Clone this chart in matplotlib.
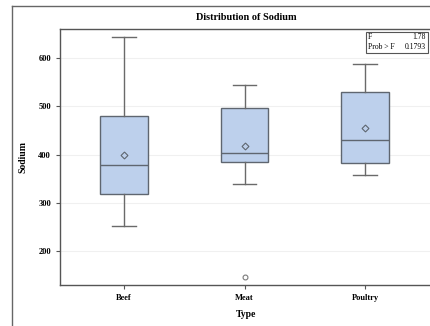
import matplotlib
matplotlib.use("Agg")
import matplotlib.pyplot as plt
from matplotlib.lines import Line2D

# Sodium by type
types = ["Beef", "Meat", "Poultry"]
whisker_low = [252, 339, 358]
q1 = [319, 385, 383]
median = [379, 404, 430]
q3 = [479, 496, 529]
whisker_high = [643, 545, 588]
mean = [400, 417, 456]
outliers = [[], [146], []]
f_value = 1.78
p_value = 0.1793

plt.rcParams["font.family"] = ["Liberation Serif", "DejaVu Serif"]

fig = plt.figure(figsize=(4.3, 3.26), dpi=100)
W, H = 430, 326
ax = fig.add_axes([60 / W, (H - 285) / H, (433 - 60) / W, (285 - 29) / H])

stats = []
for i, t in enumerate(types):
    stats.append(dict(label=t, whislo=whisker_low[i], q1=q1[i], med=median[i],
                      q3=q3[i], whishi=whisker_high[i], mean=mean[i],
                      fliers=outliers[i]))

edge = "#5f6670"
ax.bxp(stats, positions=[1, 2, 3], widths=0.395, patch_artist=True,
       showmeans=True,
       boxprops=dict(facecolor="#bdd0ec", edgecolor=edge, linewidth=1.0),
       medianprops=dict(color=edge, linewidth=1.0),
       whiskerprops=dict(color="#6a6a6a", linewidth=1.0),
       capprops=dict(color="#6a6a6a", linewidth=1.0),
       meanprops=dict(marker="D", markersize=3.5, markerfacecolor="none",
                      markeredgecolor=edge, markeredgewidth=0.8),
       flierprops=dict(marker="o", markersize=3.5, markerfacecolor="none",
                       markeredgecolor="#7a7a7a", markeredgewidth=0.8))

ax.set_xlim(0.473, 3.56)
ax.set_ylim(130, 660)
ax.set_yticks([200, 300, 400, 500, 600])
ax.yaxis.grid(True, color="#f0f0f0", linewidth=0.8)
ax.set_axisbelow(True)
for s in ax.spines.values():
    s.set_color("#555555")
    s.set_linewidth(1.0)
ax.tick_params(axis="both", labelsize=6, length=3, color="#555555", width=0.8)
for lbl in ax.get_xticklabels() + ax.get_yticklabels():
    lbl.set_fontweight("bold")

ax.set_xlabel("Type", fontsize=7, fontweight="bold", labelpad=6)
ax.set_ylabel("Sodium", fontsize=7, fontweight="bold", labelpad=8)

fig.text(246 / W, 1 - 18 / H, "Distribution of Sodium", ha="center",
         va="center", fontsize=7.4, fontweight="bold")

# F statistic inset
fig.patches.append(plt.Rectangle((366 / W, 1 - 53 / H), 62 / W, 21 / H,
                                 transform=fig.transFigure, fill=True,
                                 facecolor="white", edgecolor="#555555",
                                 linewidth=0.8))
fig.text(368 / W, 1 - 37 / H, "F", fontsize=5.5, va="center")
fig.text(426 / W, 1 - 37 / H, f"{f_value:.2f}", fontsize=5.5, va="center", ha="right")
fig.text(368 / W, 1 - 47 / H, "Prob > F", fontsize=5.5, va="center")
fig.text(426 / W, 1 - 47 / H, f"{p_value:.4f}", fontsize=5.5, va="center", ha="right")

# outer graph frame
fig.add_artist(Line2D([12 / W, 12 / W], [0, 1 - 6 / H], color="#666666", linewidth=1.0))
fig.add_artist(Line2D([12 / W, 1], [1 - 6 / H, 1 - 6 / H], color="#666666", linewidth=1.0))

fig.savefig("out.png", dpi=100)
